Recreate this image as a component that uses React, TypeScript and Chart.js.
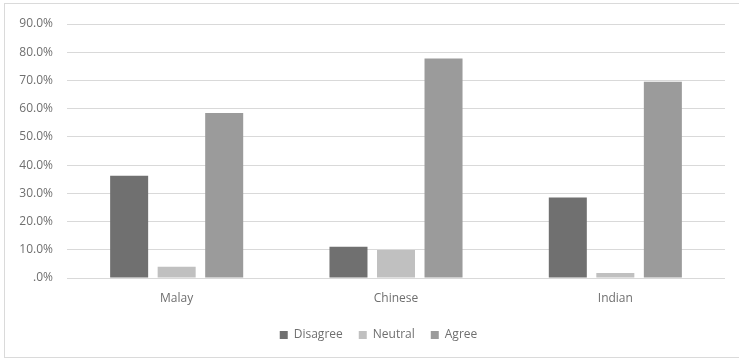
import React, { useEffect, useRef } from "react";
import { Chart, registerables } from "chart.js";

Chart.register(...registerables);

const categories = ["Malay", "Chinese", "Indian"];
const disagree = [36.2, 11.1, 28.5];
const neutral = [4.0, 9.9, 1.8];
const agree = [58.5, 77.8, 69.5];
const seriesNames = ["Disagree", "Neutral", "Agree"];
const yTicks = [0, 10, 20, 30, 40, 50, 60, 70, 80, 90];

const FONT = "'Open Sans', 'DejaVu Sans', sans-serif";
const TEXT = "#6f6f6f";

const shiftLegend = {
  id: "shiftLegend",
  afterLayout(chart: any) {
    const lg = chart.legend;
    if (lg) {
      lg.left += 16;
      lg.right += 16;
    }
  },
};

export default function App() {
  const ref = useRef<HTMLCanvasElement>(null);
  useEffect(() => {
    if (!ref.current) return;
    const chart = new Chart(ref.current, {
      type: "bar",
      data: {
        labels: categories,
        datasets: [
          { label: seriesNames[0], data: disagree, backgroundColor: "#707070" },
          { label: seriesNames[1], data: neutral, backgroundColor: "#c0c0c0" },
          { label: seriesNames[2], data: agree, backgroundColor: "#9b9b9b" },
        ],
      },
      plugins: [shiftLegend],
      options: {
        animation: false,
        responsive: false,
        maintainAspectRatio: false,
        layout: { padding: { top: 24, bottom: 9, left: 0, right: 14 } },
        datasets: {
          bar: { categoryPercentage: 0.65, barPercentage: 0.8 },
        } as any,
        plugins: {
          tooltip: { enabled: false },
          legend: {
            position: "bottom",
            labels: {
              font: { family: FONT, size: 12 },
              color: TEXT,
              boxWidth: 8,
              boxHeight: 8,
              padding: 16,
            },
          },
        },
        scales: {
          x: {
            grid: { display: false },
            border: { display: false },
            ticks: { font: { family: FONT, size: 12 }, color: TEXT, padding: 5 },
            afterFit: (s: any) => {
              s.height = 35;
            },
          },
          y: {
            min: 0,
            max: 90,
            afterBuildTicks: (s: any) => {
              s.ticks = yTicks.map((v) => ({ value: v }));
            },
            grid: { color: "#d9d9d9", lineWidth: 1, drawTicks: false },
            border: { display: false },
            ticks: {
              font: { family: FONT, size: 12 },
              color: TEXT,
              padding: 14,
              callback: (v: any) => (Number(v) === 0 ? ".0%" : Number(v).toFixed(1) + "%"),
            },
            afterFit: (s: any) => {
              s.width = 67;
            },
          },
        },
      },
    });
    return () => chart.destroy();
  }, []);
  return (
    <div style={{ position: "fixed", left: 0, top: 0, width: 739, height: 360, background: "#fff" }}>
      <div
        style={{
          position: "absolute",
          left: 4,
          top: 3,
          width: 760,
          height: 355,
          border: "1px solid #dadada",
          boxSizing: "border-box",
        }}
      />
      <canvas ref={ref} width={739} height={360} style={{ position: "absolute", left: 0, top: 0 }} />
    </div>
  );
}
